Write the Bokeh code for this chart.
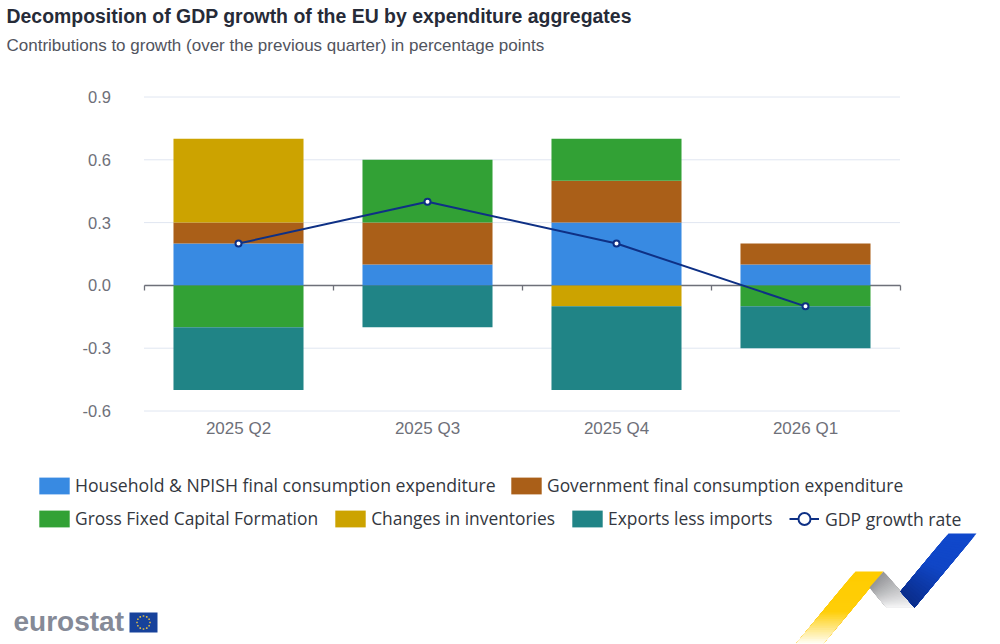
import math
import numpy as np
from bokeh.plotting import figure
from bokeh.models import (ColumnDataSource, Range1d, LinearAxis, FixedTicker, Legend, LegendItem,
                          Label, PolyAnnotation, NumeralTickFormatter)
from bokeh.embed import file_html
from bokeh.resources import INLINE

quarters = ["2025 Q2", "2025 Q3", "2025 Q4", "2026 Q1"]
household = [0.2, 0.1, 0.3, 0.1]
government = [0.1, 0.2, 0.2, 0.1]
gfcf = [-0.2, 0.3, 0.2, -0.1]
inventories = [0.4, 0.0, -0.1, 0.0]
exports_less_imports = [-0.3, -0.2, -0.4, -0.2]
gdp_growth = [0.2, 0.4, 0.2, -0.1]
y_ticks = [-0.6, -0.3, 0.0, 0.3, 0.6, 0.9]

series = [
    ("Household & NPISH final consumption expenditure", household, "#388ae2"),
    ("Government final consumption expenditure", government, "#aa5f18"),
    ("Gross Fixed Capital Formation", gfcf, "#32a135"),
    ("Changes in inventories", inventories, "#cca300"),
    ("Exports less imports", exports_less_imports, "#208486"),
]
NAVY = "#0e3085"
GREY = "#6e7079"
W, H = 1000, 644
PL, PR, PT, PB = 143.5, 899.5, 96.5, 410.5   # plot area in picture pixels

centers = [i + 0.5 for i in range(len(quarters))]
n_q = len(quarters)
ppx = (PR - PL) / n_q
ppy = (PB - PT) / (y_ticks[-1] - y_ticks[0])

# the frame fills the canvas, so titles, legends and logo are not clipped by it
p = figure(width=W, height=H, output_backend="svg", toolbar_location=None,
           x_range=Range1d(-PL / ppx, (W - PL) / ppx),
           y_range=Range1d(y_ticks[0] - (H - PB) / ppy, y_ticks[-1] + PT / ppy),
           min_border=0, outline_line_color=None)

p.grid.visible = False
p.segment(x0=[0] * len(y_ticks), x1=[n_q] * len(y_ticks), y0=y_ticks, y1=y_ticks,
          line_color="#e0e6f1", line_width=1, level="image")

p.yaxis.fixed_location = 0
p.yaxis.ticker = FixedTicker(ticks=y_ticks)
p.yaxis.formatter = NumeralTickFormatter(format="0.0")
p.yaxis.axis_line_color = None
p.yaxis.major_tick_line_color = None
p.yaxis.minor_tick_line_color = None
p.yaxis.major_label_text_font = "Liberation Sans"
p.yaxis.major_label_text_font_size = "16.5px"
p.yaxis.major_label_text_color = GREY
p.yaxis.major_label_standoff = 27
p.xaxis.fixed_location = y_ticks[0]
p.xaxis.ticker = FixedTicker(ticks=centers)
p.xaxis.major_label_overrides = dict(zip(centers, quarters))
p.xaxis.axis_line_color = None
p.xaxis.major_tick_line_color = None
p.xaxis.minor_tick_line_color = None
p.xaxis.major_label_text_font = "Liberation Sans"
p.xaxis.major_label_text_font_size = "17px"
p.xaxis.major_label_text_color = GREY
p.xaxis.major_label_standoff = 2

# zero line with band-boundary ticks
band_edges = list(range(n_q + 1))
zero_axis = LinearAxis(fixed_location=0, ticker=FixedTicker(ticks=band_edges), bounds=(0, n_q),
                       axis_line_color=GREY, axis_line_width=1.3, major_tick_line_color=GREY, major_tick_line_width=1.3,
                       major_tick_in=0, major_tick_out=5, minor_tick_line_color=None,
                       major_label_overrides={e: "" for e in band_edges}, level="underlay")
p.add_layout(zero_axis, "below")

pos = np.zeros(n_q)
neg = np.zeros(n_q)
bars = {}
for name, vals, color in series:
    v = np.array(vals)
    bottom = np.where(v >= 0, pos, neg)
    top = bottom + v
    pos = np.where(v >= 0, top, pos)
    neg = np.where(v < 0, top, neg)
    src = ColumnDataSource(dict(x=centers, top=top, bottom=bottom))
    bars[name] = p.vbar(x="x", top="top", bottom="bottom", width=0.688, source=src,
                        fill_color=color, line_color=None)

line_src = ColumnDataSource(dict(x=centers, y=gdp_growth))
l = p.line("x", "y", source=line_src, line_color=NAVY, line_width=2)
m = p.scatter("x", "y", source=line_src, size=6, fill_color="white", line_color=NAVY, line_width=2)

# bar swatches are drawn at 80% of the glyph box
LEG = dict(orientation="horizontal", background_fill_alpha=0, border_line_color=None, padding=0, margin=0,
           label_text_font="Open Sans", label_text_color="#333740", label_height=17)
BAR_LEG = dict(glyph_width=38, glyph_height=21, label_standoff=2, spacing=13)
names = [s[0] for s in series]
leg1a = Legend(items=[LegendItem(label=names[0], renderers=[bars[names[0]]])], location=(35, H - 497),
               label_text_font_size="17.65px", **BAR_LEG, **LEG)
leg1b = Legend(items=[LegendItem(label=names[1], renderers=[bars[names[1]]])], location=(507, H - 497),
               label_text_font_size="17.4px", **BAR_LEG, **LEG)
leg2 = Legend(items=[LegendItem(label=n, renderers=[bars[n]]) for n in names[2:]], location=(35, H - 530),
              label_text_font_size="17.4px", **BAR_LEG, **LEG)
leg3 = Legend(items=[LegendItem(label="GDP growth rate", renderers=[l, m])], location=(789, H - 534),
              label_text_font_size="17.6px", glyph_width=30, glyph_height=31, label_standoff=6, **LEG)
for leg in (leg1a, leg1b, leg2, leg3):
    p.add_layout(leg, "center")

def text(t, x, y, size, color, style="normal", font="Liberation Sans"):
    p.add_layout(Label(x=x, y=y, x_units="canvas", y_units="canvas", text=t, text_font=font,
                       text_font_size=size, text_color=color, text_font_style=style,
                       text_baseline="middle", text_align="left"))

text("Decomposition of GDP growth of the EU by expenditure aggregates", 6, 15, "19.45px", "#262b38", "bold")
text("Contributions to growth (over the previous quarter) in percentage points", 6, 45, "17px", "#51545e")
text("eurostat", 13, 621, "28px", "#858a97", "bold")

def poly(xs, ys, color, alpha=1.0):
    p.add_layout(PolyAnnotation(xs=list(xs), ys=list(ys), xs_units="canvas", ys_units="canvas",
                                fill_color=color, fill_alpha=alpha, line_color=None))

def lerp_col(a, b, t):
    return "#%02x%02x%02x" % tuple(round(a[i] + (b[i] - a[i]) * t) for i in range(3))

def grad_quad(q, stops, n=14):
    # q: four corners; each slice repaints from its start to the far edge, so no seams show
    for i in range(n):
        t0 = i / n
        pts = []
        for t, (e0, e1) in ((t0, (q[0], q[3])), (t0, (q[1], q[2])), (1, (q[1], q[2])), (1, (q[0], q[3]))):
            pts.append((e0[0] + (e1[0] - e0[0]) * t, e0[1] + (e1[1] - e0[1]) * t))
        f = i / max(n - 1, 1)
        for (s0, c0), (s1, c1) in zip(stops, stops[1:]):
            if s0 <= f <= s1:
                col = lerp_col(c0, c1, (f - s0) / (s1 - s0))
                break
        poly([a for a, _ in pts], [b for _, b in pts], col)

# logo swoosh
grad_quad([(855, 571), (883, 571), (822, 644), (795, 644)],
          [(0, (255, 204, 0)), (0.55, (255, 206, 8)), (1, (255, 254, 246))], n=40)
grad_quad([(883, 571), (869, 587), (886, 607), (914, 607)], [(0, (150, 151, 154)), (1, (245, 245, 246))], n=24)
grad_quad([(948, 533), (976, 533), (914, 607), (900, 591)],
          [(0, (16, 72, 204)), (0.5, (16, 70, 198)), (1, (10, 45, 140))], n=30)

# logo flag
poly([129, 157, 157, 129], [612, 612, 632, 632], "#17429b")
for k in range(12):
    a = 2 * math.pi * k / 12
    cx, cy = 143 + 6.5 * math.cos(a), 622 + 6.5 * math.sin(a)
    poly([cx - 0.8, cx + 0.8, cx + 0.8, cx - 0.8], [cy - 0.8, cy - 0.8, cy + 0.8, cy + 0.8], "#d8b84a")

open("out.html", "w").write(file_html(p, INLINE))
